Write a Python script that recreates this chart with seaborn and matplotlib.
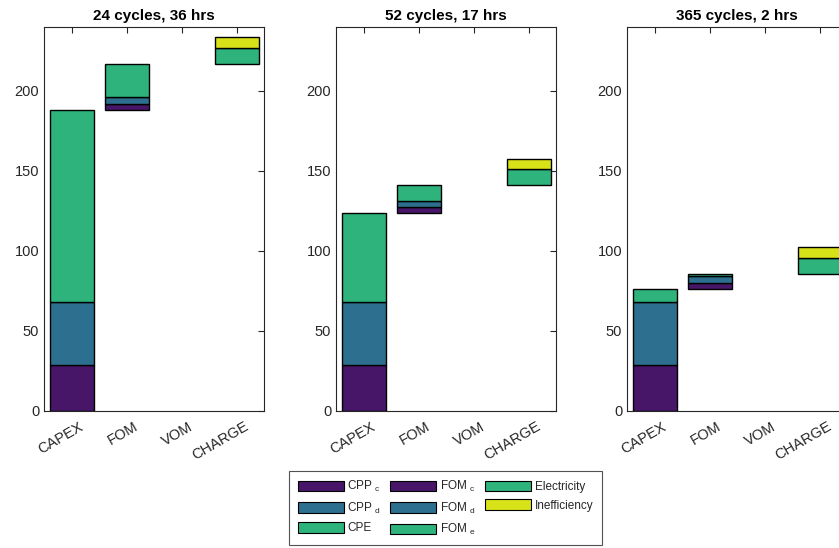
import matplotlib
matplotlib.use("Agg")
import matplotlib.pyplot as plt
import matplotlib.transforms as mtransforms
import seaborn as sns
import numpy as np
from matplotlib.patches import Patch

# ---- data ----
categories = ["CAPEX", "FOM", "VOM", "CHARGE"]
titles = ["24 cycles, 36 hrs", "52 cycles, 17 hrs", "365 cycles, 2 hrs"]

# segment heights per scenario
cpp_c = [29.0, 29.0, 29.0]
cpp_d = [39.0, 39.0, 39.0]
cpe = [120.0, 55.5, 8.0]
fom_c = [4.0, 3.8, 4.0]
fom_d = [4.0, 4.0, 4.2]
fom_e = [21.0, 9.7, 1.2]
vom = [0.0, 0.0, 0.0]
electricity = [10.0, 10.0, 10.0]
inefficiency = [6.5, 6.7, 6.9]

legend_labels = [r"CPP $_\mathregular{c}$", r"CPP $_\mathregular{d}$", "CPE",
                 r"FOM $_\mathregular{c}$", r"FOM $_\mathregular{d}$", r"FOM $_\mathregular{e}$",
                 "Electricity", "Inefficiency"]

# ---- style ----
sns.set_theme(style="white")
plt.rcParams["font.family"] = ["Liberation Sans", "DejaVu Sans"]
plt.rcParams["mathtext.fontset"] = "custom"
plt.rcParams["mathtext.rm"] = "Liberation Sans"

c_purple = "#481668"
c_blue = "#2D6F8E"
c_green = "#2EB37C"
c_yellow = "#D8E219"
seg_colors = [c_purple, c_blue, c_green, c_purple, c_blue, c_green, c_green, c_yellow]

text_col = "#262626"

fig = plt.figure(figsize=(8.39, 5.48), dpi=100)
W, H = 839.0, 548.0
lefts = [44, 336, 627]
axw, axh = 220, 384
bottom_px = 411

for i in range(3):
    ax = fig.add_axes([lefts[i] / W, (H - bottom_px) / H, axw / W, axh / H])
    stacks = {
        0: [cpp_c[i], cpp_d[i], cpe[i]],
        1: [fom_c[i], fom_d[i], fom_e[i]],
        2: [vom[i]],
        3: [electricity[i], inefficiency[i]],
    }
    col_map = {0: [c_purple, c_blue, c_green], 1: [c_purple, c_blue, c_green],
               2: [c_green], 3: [c_green, c_yellow]}
    base = 0.0
    for k in range(4):
        for h, c in zip(stacks[k], col_map[k]):
            if h > 0:
                ax.bar(k + 1, h, bottom=base, width=0.8, color=c,
                       edgecolor="black", linewidth=1.0)
            base += h
    ax.set_xlim(0.5, 4.5)
    ax.set_ylim(0, 240)
    ax.set_yticks([0, 50, 100, 150, 200])
    ax.set_xticks([1, 2, 3, 4])
    ax.set_xticklabels(categories, rotation=30, ha="right", rotation_mode="anchor")
    ax.tick_params(direction="in", length=4, width=0.8, colors=text_col,
                   labelsize=10.5, top=True, right=True, labelcolor=text_col)
    ax.tick_params(axis="x", pad=6)
    offset = mtransforms.ScaledTranslation(7 / 100.0, 0, fig.dpi_scale_trans)
    for lab in ax.get_xticklabels():
        lab.set_transform(lab.get_transform() + offset)
    for s in ax.spines.values():
        s.set_color(text_col)
        s.set_linewidth(0.8)
    ax.set_title(titles[i], fontsize=11, fontweight="bold", color="black", pad=5)

handles = [Patch(facecolor=c, edgecolor="black", linewidth=0.8) for c in seg_colors]
leg = fig.legend(handles, legend_labels, ncol=3, loc="center",
                 bbox_to_anchor=(445.5 / W, (H - 508) / H),
                 fontsize=8.5, frameon=True, fancybox=False,
                 handlelength=3.9, handleheight=1.0, handletextpad=0.3,
                 columnspacing=0.8, labelspacing=0.55, borderpad=0.7)
leg.get_frame().set_edgecolor(text_col)
leg.get_frame().set_linewidth(0.8)

fig.savefig("out.png", dpi=100)
